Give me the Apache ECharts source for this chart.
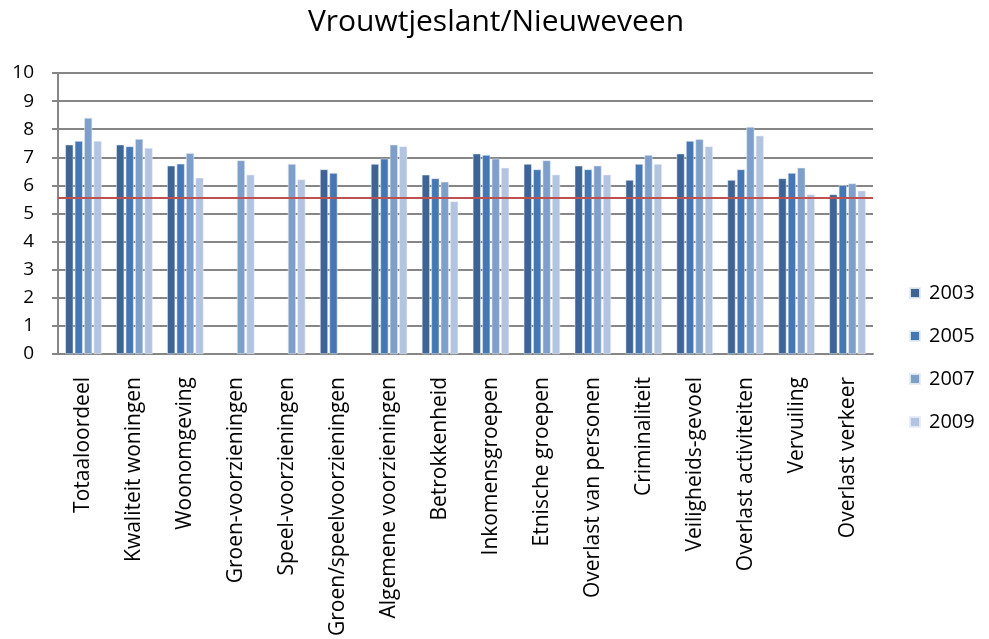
<!DOCTYPE html>
<html><head><meta charset="utf-8">
<script src="https://cdn.jsdelivr.net/npm/echarts@6/dist/echarts.min.js"></script>
<style>html,body{margin:0;padding:0;background:#fff}#c{width:989px;height:639px}</style>
</head><body><div id="c"></div>
<script>
const categories = ['Totaaloordeel','Kwaliteit woningen','Woonomgeving','Groen-voorzieningen','Speel-voorzieningen','Groen/speelvoorzieningen','Algemene voorzieningen','Betrokkenheid','Inkomensgroepen','Etnische groepen','Overlast van personen','Criminaliteit','Veiligheids-gevoel','Overlast activiteiten','Vervuiling','Overlast verkeer'];
const v2003 = [7.45, 7.45, 6.70, null, null, 6.57, 6.76, 6.38, 7.13, 6.76, 6.70, 6.19, 7.13, 6.19, 6.25, 5.68];
const v2005 = [7.58, 7.39, 6.77, null, null, 6.44, 6.95, 6.25, 7.08, 6.57, 6.57, 6.76, 7.58, 6.57, 6.44, 6.01];
const v2007 = [8.40, 7.65, 7.15, 6.89, 6.76, null, 7.45, 6.13, 6.95, 6.89, 6.70, 7.08, 7.64, 8.08, 6.63, 6.07];
const v2009 = [7.58, 7.33, 6.27, 6.38, 6.21, null, 7.39, 5.43, 6.63, 6.38, 6.38, 6.76, 7.39, 7.77, 5.68, 5.81];
const seriesNames = ['2003','2005','2007','2009'];
const yTicks = [0,1,2,3,4,5,6,7,8,9,10];
const refValue = 5.55;
const colors = ['#3d6494','#4677b5','#7f9fcb','#b3c4e0'];
const FONT = 'Open Sans';
const chart = echarts.init(document.getElementById('c'));
const data = [v2003, v2005, v2007, v2009];
const series = seriesNames.map((n, i) => ({
  name: n, type: 'bar', data: data[i],
  barWidth: 8, barGap: '18%',
  itemStyle: {color: colors[i], borderColor: 'rgba(230,236,245,0.9)', borderWidth: 0.6},
  emphasis: {disabled: true},
  markLine: i === 0 ? {
    silent: true, symbol: 'none', label: {show: false},
    lineStyle: {color: '#c0504d', width: 2, type: 'solid'},
    data: [{yAxis: refValue}]
  } : undefined,
  z: 2
}));
chart.setOption({
  animation: false,
  textStyle: {fontFamily: FONT},
  title: {text: 'Vrouwtjeslant/Nieuweveen', left: 491, top: 2, textAlign: 'center',
    textStyle: {fontFamily: FONT, fontSize: 30, fontWeight: 'normal', color: '#000'}},
  legend: {orient: 'vertical', left: 904, top: 278, itemGap: 23, itemWidth: 10, itemHeight: 10,
    icon: 'rect', data: seriesNames,
    textStyle: {fontFamily: FONT, fontSize: 20, color: '#000', padding: [0,0,0,4]}},
  grid: {left: 58, right: 116, top: 73, bottom: 282, containLabel: false},
  xAxis: {type: 'category', data: categories,
    axisLine: {lineStyle: {color: '#868686', width: 2}},
    axisTick: {show: false},
    axisLabel: {rotate: 90, fontFamily: FONT, fontSize: 21, color: '#000', margin: 23, interval: 0}},
  yAxis: {type: 'value', min: 0, max: 10, interval: 1,
    axisLine: {show: true, lineStyle: {color: '#868686', width: 2}},
    axisTick: {show: true, length: 6, lineStyle: {color: '#868686', width: 2}},
    splitLine: {lineStyle: {color: '#868686', width: 2}},
    axisLabel: {fontFamily: FONT, fontSize: 19, color: '#000', margin: 24,
      formatter: v => yTicks.includes(v) ? String(v) : ''}},
  series: series
});
</script></body></html>
